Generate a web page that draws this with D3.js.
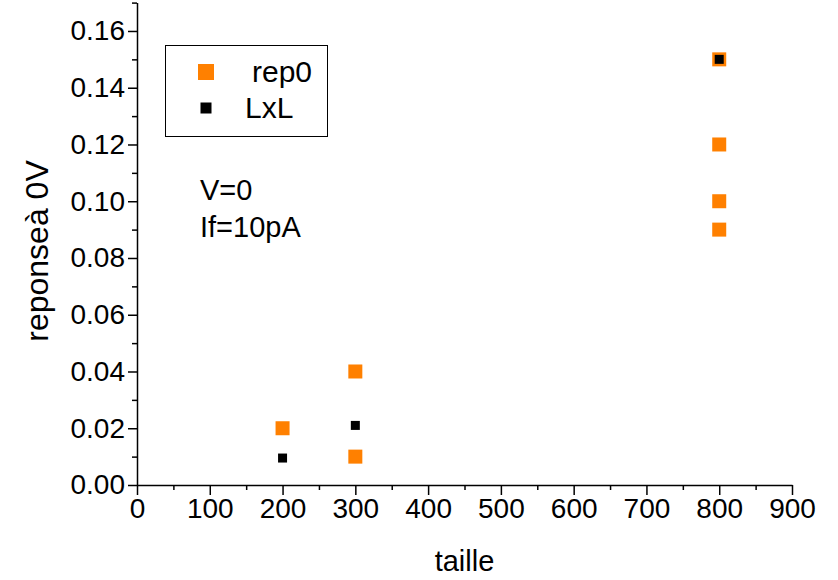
<!DOCTYPE html>
<html>
<head>
<meta charset="utf-8">
<script src="https://cdn.jsdelivr.net/npm/d3@7"></script>
<style>
  body { margin: 0; background: #fff; }
  svg { display: block; }
  text { font-family: "Liberation Sans", Arial, sans-serif; fill: #000; }
</style>
</head>
<body>
<svg id="chart" width="838" height="580"></svg>
<script>
// rep0 measurements (taille, response)
const rep0X = [200, 300, 300, 800, 800, 800, 800];
const rep0Y = [0.02, 0.04, 0.01, 0.15, 0.12, 0.10, 0.09];
// LxL reference values
const lxlX = [200, 300, 800];
const lxlY = [0.0095, 0.021, 0.15];

const xTicks = [0, 100, 200, 300, 400, 500, 600, 700, 800, 900];
const yTicks = [0.00, 0.02, 0.04, 0.06, 0.08, 0.10, 0.12, 0.14, 0.16];

(function () {
const svg = d3.select("#chart");
const mLeft = 137, mRight = 792, mTop = 2.6, mBottom = 485;

const x = d3.scaleLinear().domain([0, 900]).range([mLeft, mRight]);
const y = d3.scaleLinear().domain([0, 0.17]).range([mBottom, mTop]);

const fs = 28;

// x axis: major + minor ticks outward
const xMinor = d3.range(50, 900, 100);
svg.append("g").attr("transform", `translate(0,${mBottom})`)
  .call(d3.axisBottom(x).tickValues(xMinor).tickSize(5).tickFormat(""))
  .call(g => g.select(".domain").remove())
  .selectAll("line").attr("stroke", "#000").attr("stroke-width", 1.5);
const gx = svg.append("g").attr("transform", `translate(0,${mBottom})`)
  .call(d3.axisBottom(x).tickValues(xTicks).tickSize(10).tickSizeOuter(0).tickPadding(3).tickFormat(d3.format("d")));
gx.select(".domain").attr("stroke", "#000").attr("stroke-width", 1.5);
gx.selectAll(".tick line").attr("stroke", "#000").attr("stroke-width", 1.5);
gx.selectAll("text").style("font-size", fs + "px").attr("font-family", null);

// y axis
const yMinor = d3.range(0.01, 0.171, 0.02);
svg.append("g").attr("transform", `translate(${mLeft},0)`)
  .call(d3.axisLeft(y).tickValues(yMinor).tickSize(5).tickFormat(""))
  .call(g => g.select(".domain").remove())
  .selectAll("line").attr("stroke", "#000").attr("stroke-width", 1.5);
const gy = svg.append("g").attr("transform", `translate(${mLeft},0)`)
  .call(d3.axisLeft(y).tickValues(yTicks).tickSize(9).tickSizeOuter(0).tickPadding(3).tickFormat(d3.format(".2f")));
gy.select(".domain").attr("stroke", "#000").attr("stroke-width", 1.5);
gy.selectAll(".tick line").attr("stroke", "#000").attr("stroke-width", 1.5);
gy.selectAll("text").style("font-size", fs + "px").attr("font-family", null);

// axis titles
svg.append("text").attr("x", (mLeft + mRight) / 2).attr("y", 571)
  .attr("text-anchor", "middle").style("font-size", "29px").text("taille");
svg.append("text").attr("transform", `translate(48,251) rotate(-90)`)
  .attr("text-anchor", "middle").style("font-size", "32px").text("reponseà 0V");

// markers
const orange = "#ff8000";
const s0 = 14, s1 = 9;
svg.append("g").selectAll("rect").data(rep0X.map((d, i) => [d, rep0Y[i]])).join("rect")
  .attr("x", d => x(d[0]) - s0 / 2).attr("y", d => y(d[1]) - s0 / 2)
  .attr("width", s0).attr("height", s0).attr("fill", orange);
svg.append("g").selectAll("rect").data(lxlX.map((d, i) => [d, lxlY[i]])).join("rect")
  .attr("x", d => x(d[0]) - s1 / 2).attr("y", d => y(d[1]) - s1 / 2)
  .attr("width", s1).attr("height", s1).attr("fill", "#000");

// legend
const lg = svg.append("g");
lg.append("rect").attr("x", 165.5).attr("y", 45.5).attr("width", 162).attr("height", 91)
  .attr("fill", "#fff").attr("stroke", "#000").attr("stroke-width", 1);
lg.append("rect").attr("x", 206 - 8).attr("y", 72 - 8).attr("width", 16).attr("height", 16).attr("fill", orange);
lg.append("rect").attr("x", 206 - 5.5).attr("y", 108 - 5.5).attr("width", 11).attr("height", 11).attr("fill", "#000");
lg.append("text").attr("x", 252).attr("y", 82).style("font-size", "30px").text("rep0");
lg.append("text").attr("x", 245).attr("y", 118).style("font-size", "30px").text("LxL");

// annotation
svg.append("text").attr("x", 200).attr("y", 200).style("font-size", "29px").text("V=0");
svg.append("text").attr("x", 200).attr("y", 237).style("font-size", "29px").text("If=10pA");
})();
</script>
</body>
</html>
